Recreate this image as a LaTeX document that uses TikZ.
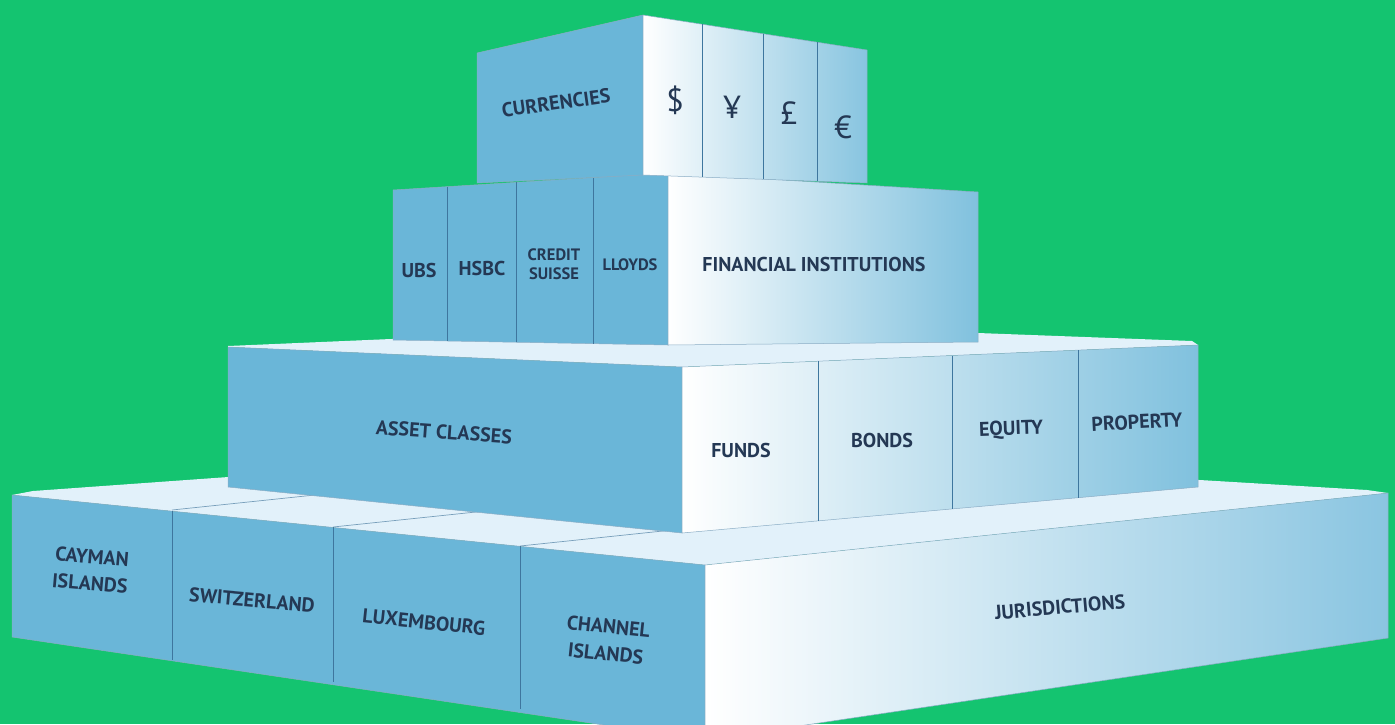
\documentclass[tikz,border=0pt]{standalone}
\usepackage{fontspec}
\setmainfont{PT Sans}
\usetikzlibrary{positioning}
\definecolor{bggreen}{RGB}{20,196,112}
\definecolor{faceblue}{RGB}{106,182,216}
\definecolor{paleblue}{RGB}{138,197,225}
\definecolor{topwhite}{RGB}{226,241,250}
\definecolor{edgeblue}{RGB}{62,118,158}
\definecolor{inkblue}{RGB}{36,56,84}

\tikzset{
  facetext/.style={text=inkblue, font=\bfseries\fontsize{20}{27}\selectfont, align=center, inner sep=0pt},
  smalltext/.style={facetext, font=\bfseries\fontsize{16.5}{19}\selectfont},
  symtext/.style={facetext, font=\fontsize{32}{32}\selectfont},
  divider/.style={draw=edgeblue, line width=0.8pt},
  topline/.style={draw=edgeblue!70, line width=0.7pt},
  faceedge/.style={draw=edgeblue!60, line width=0.5pt}
}

\begin{document}
\begin{tikzpicture}[x=1pt, y=-1pt]
    % Background
    \fill[bggreen] (0,0) rectangle (1395,724);
    \clip (0,0) rectangle (1395,724);

    % Bottom block (jurisdictions)
    \fill[topwhite] (12,495) -- (705,565) -- (1388,493) -- (1367,490) -- (647,447) -- (33,491) -- cycle;
    \foreach \x/\y in {172/510, 333/527, 520/546} {
        \draw[topline] (\x,\y) -- ++(200,-21);
    }
    \fill[faceblue, faceedge] (12,495) -- (705,565) -- (705,740) -- (12,637) -- cycle;
    \shade[left color=white, right color=paleblue, faceedge] (705,565) -- (1388,493) -- (1388,638) -- (705,740) -- cycle;
    \foreach \x in {172, 333, 520} {
        \draw[divider] (\x,{495+0.101*(\x-12)}) -- (\x,{637+0.1414*(\x-12)});
    }

    % Asset block
    \fill[topwhite] (228,347) -- (682,367) -- (1198,345) -- (1192,341) -- (978,333) -- (391,339) -- (228,346) -- cycle;
    \fill[faceblue, faceedge] (228,347) -- (682,367) -- (682,533) -- (228,487) -- cycle;
    \shade[left color=white, right color=faceblue!85!white, faceedge] (682,367) -- (1198,345) -- (1198,487) -- (682,533) -- cycle;
    \foreach \x in {818, 952, 1078} {
        \draw[divider] (\x,{367-0.0426*(\x-682)}) -- (\x,{533-0.0891*(\x-682)});
    }

    % Second block (financial institutions)
    \fill[faceblue, faceedge] (393,190) -- (668,173) -- (668,345) -- (393,340) -- cycle;
    \shade[left color=white, right color=faceblue!85!white, faceedge] (668,173) -- (978,192) -- (978,342) -- (668,345) -- cycle;
    \foreach \x in {447, 516, 593} {
        \draw[divider] (\x,{190-0.0618*(\x-393)}) -- (\x,{340+0.0182*(\x-393)});
    }

    % Top block (currencies)
    \fill[faceblue, faceedge] (477,53) -- (643,15) -- (643,175) -- (477,183) -- cycle;
    \shade[left color=white, right color=faceblue!80!white, faceedge] (643,15) -- (867,50) -- (867,183) -- (643,175) -- cycle;
    \foreach \x in {702, 763, 817} {
        \draw[divider] (\x,{15+0.1563*(\x-643)}) -- (\x,{175+0.0357*(\x-643)});
    }

    % Labels
    \node[facetext, rotate=8] (cur) at (556,103) {CURRENCIES};
    \node[symtext] (usd) at (675,100) {\$};
    \node[symtext] (yen) at (732,107) {¥};
    \node[symtext] (gbp) at (789,113) {£};
    \node[symtext] (eur) at (843,127) {€};

    \node[facetext] (ubs) at (419,270) {UBS};
    \node[facetext] (hsbc) at (482,268) {HSBC};
    \node[smalltext] (credit) at (554,264) {CREDIT\\SUISSE};
    \node[smalltext] (lloyds) at (630,265) {LLOYDS};
    \node[facetext] (fin) at (814,264) {FINANCIAL INSTITUTIONS};

    \node[facetext, rotate=-4] (asset) at (444,432) {ASSET CLASSES};
    \node[facetext] (funds) at (741,450) {FUNDS};
    \node[facetext] (bonds) at (882,440) {BONDS};
    \node[facetext, rotate=2] (equity) at (1011,430) {EQUITY};
    \node[facetext, rotate=3] (property) at (1137,422) {PROPERTY};

    \node[facetext, rotate=-5] (cayman) at (91,570) {CAYMAN\\ISLANDS};
    \node[facetext, rotate=-5] (swiss) at (252,600) {SWITZERLAND};
    \node[facetext, rotate=-6] (lux) at (424,622) {LUXEMBOURG};
    \node[facetext, rotate=-6] (channel) at (607,640) {CHANNEL\\ISLANDS};
    \node[facetext, rotate=5] (juris) at (1060,607) {JURISDICTIONS};

\end{tikzpicture}
\end{document}
